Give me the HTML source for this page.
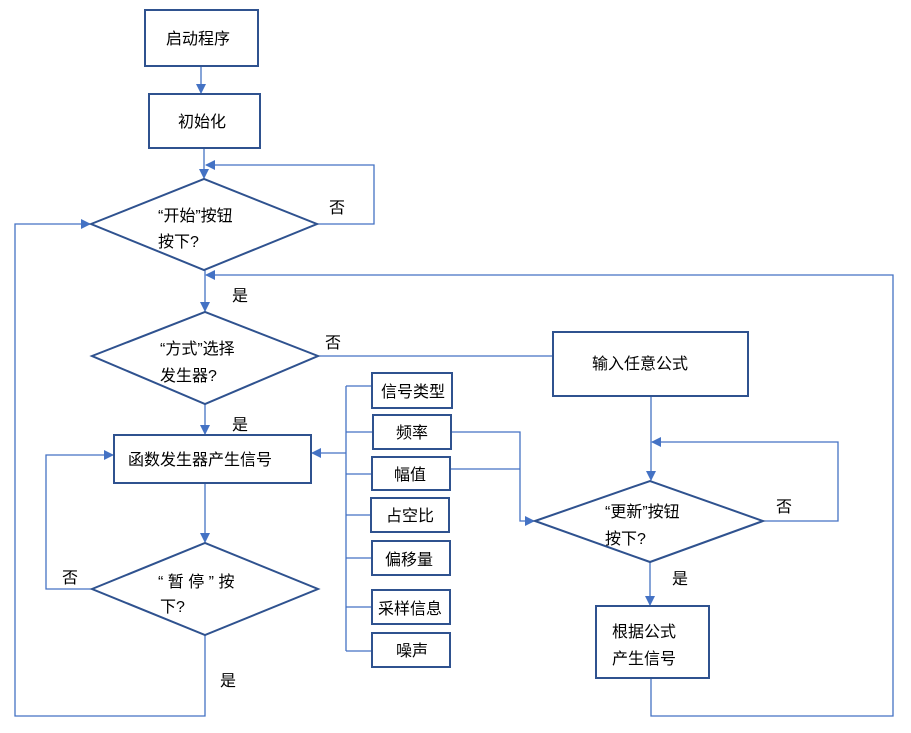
<!DOCTYPE html>
<html><head><meta charset="utf-8"><style>
html,body{margin:0;padding:0;background:#fff;}
svg text{font-family:"Liberation Sans","Noto Sans CJK SC",sans-serif;font-size:16px;fill:#000;}
</style></head><body>
<svg width="911" height="728" viewBox="0 0 911 728" xmlns="http://www.w3.org/2000/svg">
<defs><marker id="a" markerWidth="10" markerHeight="10" refX="9" refY="5" orient="auto" markerUnits="userSpaceOnUse"><path d="M0,0 L10,5 L0,10 z" fill="#4472C4"/></marker></defs>
<g fill="none" stroke="#4472C4" stroke-width="1.3">
<line x1="201" y1="66" x2="201" y2="93" marker-end="url(#a)"/>
<line x1="204" y1="148" x2="204" y2="178" marker-end="url(#a)"/>
<polyline points="317,224 374,224 374,165 206,165" marker-end="url(#a)"/>
<line x1="205" y1="270" x2="205" y2="311" marker-end="url(#a)"/>
<polyline points="651,678 651,716 893,716 893,275 206,275" marker-end="url(#a)"/>
<line x1="318" y1="356" x2="553" y2="356"/>
<line x1="205" y1="404" x2="205" y2="434" marker-end="url(#a)"/>
<line x1="205" y1="483" x2="205" y2="542" marker-end="url(#a)"/>
<polyline points="92,589 46,589 46,455 113,455" marker-end="url(#a)"/>
<polyline points="205,635 205,716 15,716 15,224 90,224" marker-end="url(#a)"/>
<line x1="346" y1="386" x2="346" y2="651"/>
<line x1="346" y1="386" x2="372" y2="386"/>
<line x1="346" y1="432" x2="373" y2="432"/>
<line x1="346" y1="474" x2="372" y2="474"/>
<line x1="346" y1="515" x2="371" y2="515"/>
<line x1="346" y1="558" x2="372" y2="558"/>
<line x1="346" y1="607" x2="372" y2="607"/>
<line x1="346" y1="651" x2="372" y2="651"/>
<line x1="346" y1="453" x2="312" y2="453" marker-end="url(#a)"/>
<polyline points="451,432 520,432 520,521 534,521" marker-end="url(#a)"/>
<line x1="450" y1="469" x2="520" y2="469"/>
<line x1="651" y1="396" x2="651" y2="480" marker-end="url(#a)"/>
<polyline points="763,521 838,521 838,442 652,442" marker-end="url(#a)"/>
<line x1="650" y1="562" x2="650" y2="605" marker-end="url(#a)"/>
</g>
<g fill="#fff" stroke="#2F528F" stroke-width="2">
<rect x="145" y="10" width="113" height="56"/>
<rect x="149" y="94" width="111" height="54"/>
<polygon points="91,224 204,179 317,224 204,270"/>
<polygon points="92,356 205,312 318,356 205,404"/>
<rect x="114" y="435" width="197" height="48"/>
<polygon points="92,589 205,543 318,589 205,635"/>
<rect x="553" y="332" width="195" height="64"/>
<rect x="372" y="373" width="80" height="35"/>
<rect x="373" y="415" width="78" height="34"/>
<rect x="372" y="457" width="78" height="33"/>
<rect x="371" y="498" width="78" height="34"/>
<rect x="372" y="541" width="78" height="34"/>
<rect x="372" y="590" width="78" height="34"/>
<rect x="372" y="633" width="78" height="34"/>
<polygon points="535,521 650,481 763,521 650,562"/>
<rect x="596" y="606" width="113" height="72"/>
</g>
<g>
<text x="166" y="44">启动程序</text>
<text x="178" y="127">初始化</text>
<text x="158" y="221">“开始”按钮</text>
<text x="158" y="247">按下?</text>
<text x="160" y="354">“方式”选择</text>
<text x="160" y="381">发生器?</text>
<text x="128" y="465">函数发生器产生信号</text>
<text x="158" y="587">“ 暂 停 ” 按</text>
<text x="160" y="612">下?</text>
<text x="592" y="369">输入任意公式</text>
<text x="381" y="397">信号类型</text>
<text x="396" y="438">频率</text>
<text x="394" y="480">幅值</text>
<text x="386" y="521">占空比</text>
<text x="385" y="565">偏移量</text>
<text x="378" y="614">采样信息</text>
<text x="396" y="656">噪声</text>
<text x="605" y="517">“更新”按钮</text>
<text x="605" y="544">按下?</text>
<text x="612" y="637">根据公式</text>
<text x="612" y="664">产生信号</text>
<text x="329" y="213">否</text>
<text x="232" y="301">是</text>
<text x="325" y="348">否</text>
<text x="232" y="430">是</text>
<text x="62" y="583">否</text>
<text x="220" y="686">是</text>
<text x="776" y="512">否</text>
<text x="672" y="584">是</text>
</g>
</svg>
</body></html>
